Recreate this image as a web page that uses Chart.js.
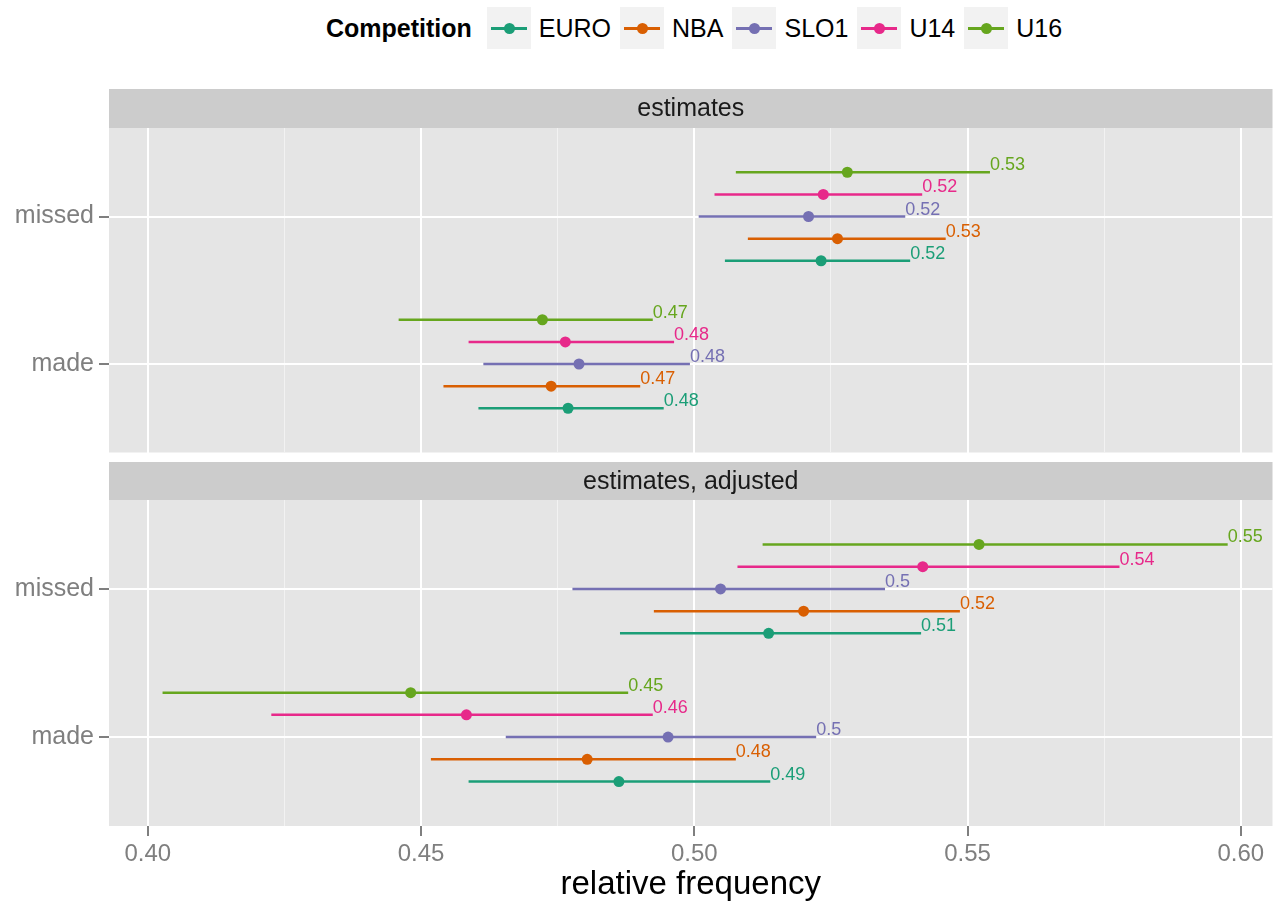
<!DOCTYPE html>
<html>
<head>
<meta charset="utf-8">
<script src="https://cdn.jsdelivr.net/npm/chart.js@4.4.1/dist/chart.umd.min.js"></script>
<style>
  body { margin: 0; background: #fff; font-family: "Liberation Sans", Arial, sans-serif; }
  #wrap { position: relative; width: 1278px; height: 907px; overflow: hidden; }
  #legend { position: absolute; top: 7px; left: 326px; height: 42px; display: flex; align-items: center; }
  #legend .title { font-weight: bold; font-size: 25px; margin-right: 15px; color: #000; }
  #legend .key { position: relative; width: 44px; height: 42px; background: #f2f2f2; margin-right: 8px; }
  #legend .key .ln { position: absolute; left: 4px; right: 4px; top: 20px; height: 3px; }
  #legend .key .pt { position: absolute; left: 17px; top: 16px; width: 11px; height: 11px; border-radius: 50%; }
  #legend .key .a { position: absolute; left: 19px; top: 19px; font-size: 9px; line-height: 9px; opacity: 0.5; }
  #legend .lab { font-size: 25px; margin-right: 9px; color: #000; }
  canvas { position: absolute; left: 0; }
  #topPanel { top: 89px; }
  #bottomPanel { top: 462px; }
</style>
</head>
<body>
<div id="wrap">
  <div id="legend"></div>
  <canvas id="topPanel" width="1278" height="369"></canvas>
  <canvas id="bottomPanel" width="1278" height="445"></canvas>
</div>
<script>
const competitions = ['EURO', 'NBA', 'SLO1', 'U14', 'U16'];
const colors = ['#1B9E77', '#D95F02', '#7570B3', '#E7298A', '#66A61E'];
const rows = ['missed', 'made'];
const xTickLabels = ['0.40', '0.45', '0.50', '0.55', '0.60'];
const xTickValues = [0.40, 0.45, 0.50, 0.55, 0.60];

// panel "estimates": order EURO, NBA, SLO1, U14, U16
const estMissedLo  = [0.5056, 0.5098, 0.5008, 0.5037, 0.5076];
const estMissedMid = [0.5232, 0.5262, 0.5209, 0.5236, 0.5280];
const estMissedHi  = [0.5395, 0.5460, 0.5386, 0.5417, 0.5541];
const estMadeLo    = [0.4605, 0.4541, 0.4614, 0.4587, 0.4459];
const estMadeMid   = [0.4769, 0.4738, 0.4789, 0.4764, 0.4722];
const estMadeHi    = [0.4944, 0.4901, 0.4992, 0.4963, 0.4924];

// panel "estimates, adjusted"
const adjMissedLo  = [0.4864, 0.4926, 0.4777, 0.5079, 0.5125];
const adjMissedMid = [0.5136, 0.5200, 0.5048, 0.5418, 0.5521];
const adjMissedHi  = [0.5415, 0.5486, 0.5349, 0.5778, 0.5976];
const adjMadeLo    = [0.4587, 0.4518, 0.4655, 0.4226, 0.4027];
const adjMadeMid   = [0.4862, 0.4804, 0.4952, 0.4583, 0.4481];
const adjMadeHi    = [0.5139, 0.5076, 0.5223, 0.4924, 0.4879];

// layout of the discrete y axis (dodged rows)
const rowPos = [2, 1];
const dodge = [-0.3, -0.15, 0, 0.15, 0.3];
const FONT = '"Liberation Sans", Arial, sans-serif';

function buildLegend() {
  const legend = document.getElementById('legend');
  legend.innerHTML = '<span class="title">Competition</span>';
  competitions.forEach((comp, i) => {
    const key = document.createElement('span');
    key.className = 'key';
    key.innerHTML = `<span class="ln" style="background:${colors[i]}"></span>` +
      `<span class="pt" style="background:${colors[i]}"></span>` +
      `<span class="a" style="color:${colors[i]}">a</span>`;
    const lab = document.createElement('span');
    lab.className = 'lab';
    lab.textContent = comp;
    legend.append(key, lab);
  });
}

const panelPlugin = {
  id: 'panel',
  beforeDraw(chart, args, opts) {
    const { ctx, chartArea: a } = chart;
    ctx.save();
    ctx.fillStyle = '#e5e5e5';
    ctx.fillRect(a.left, a.top, a.right - a.left, a.bottom - a.top);
    ctx.fillStyle = '#cccccc';
    ctx.fillRect(a.left, a.top - opts.stripHeight, a.right - a.left, opts.stripHeight);
    ctx.fillStyle = '#1a1a1a';
    ctx.font = '25px ' + FONT;
    ctx.textAlign = 'center';
    ctx.textBaseline = 'middle';
    ctx.fillText(opts.text, (a.left + a.right) / 2, a.top - opts.stripHeight / 2 + 1);
    ctx.restore();
  },
};

function makeLabelPlugin(mid, hi) {
  return {
    id: 'valueLabels',
    afterDatasetsDraw(chart) {
      const { ctx, scales } = chart;
      ctx.save();
      ctx.font = '18px ' + FONT;
      ctx.textAlign = 'left';
      ctx.textBaseline = 'alphabetic';
      competitions.forEach((comp, i) => {
        rows.forEach((row, r) => {
          const x = scales.x.getPixelForValue(hi[row][i]);
          const y = scales.y.getPixelForValue(rowPos[r] + dodge[i]);
          ctx.fillStyle = colors[i];
          ctx.fillText(String(Number(mid[row][i].toFixed(2))), x, y - 2);
        });
      });
      ctx.restore();
    },
  };
}

function makePanel(canvasId, stripText, stripHeight, lo, mid, hi, isBottom) {
  const datasets = [];
  competitions.forEach((comp, i) => {
    rows.forEach((row, r) => {
      const y = rowPos[r] + dodge[i];
      datasets.push({
        type: 'line',
        data: [{ x: lo[row][i], y }, { x: hi[row][i], y }],
        borderColor: colors[i],
        borderWidth: 2.5,
        borderCapStyle: 'butt',
        pointRadius: 0,
        order: 2,
      });
    });
  });
  competitions.forEach((comp, i) => {
    datasets.push({
      type: 'scatter',
      data: rows.map((row, r) => ({ x: mid[row][i], y: rowPos[r] + dodge[i] })),
      backgroundColor: colors[i],
      borderColor: colors[i],
      borderWidth: 0,
      pointRadius: 5.5,
      order: 1,
    });
  });

  const xTicks = [];
  xTickValues.forEach((v, k) => {
    xTicks.push(v);
    if (k < xTickValues.length - 1) xTicks.push((v + xTickValues[k + 1]) / 2);
  });

  return new Chart(document.getElementById(canvasId), {
    type: 'scatter',
    data: { datasets },
    plugins: [panelPlugin, makeLabelPlugin(mid, hi)],
    options: {
      responsive: false,
      animation: false,
      layout: { padding: { top: stripHeight, right: 1, left: 0, bottom: 0 } },
      plugins: {
        legend: { display: false },
        tooltip: { enabled: false },
        panel: { text: stripText, stripHeight },
      },
      scales: {
        x: {
          type: 'linear',
          min: 0.3929,
          max: 0.6058,
          afterBuildTicks: (axis) => { axis.ticks = xTicks.map((v) => ({ value: v })); },
          afterFit: (axis) => {
            axis.height = isBottom ? 81 : 0;
            axis.paddingLeft = 0;
            axis.paddingRight = 0;
          },
          border: { display: false },
          grid: {
            color: (c) => (c.index % 2 === 0 ? '#ffffff' : '#f2f2f2'),
            lineWidth: (c) => (c.index % 2 === 0 ? 2 : 1),
            drawTicks: isBottom,
            tickLength: 10,
            tickWidth: 2,
            tickColor: (c) => (c.index % 2 === 0 ? '#7f7f7f' : 'rgba(0,0,0,0)'),
          },
          ticks: {
            display: isBottom,
            autoSkip: false,
            maxRotation: 0,
            padding: 4,
            color: '#7f7f7f',
            font: { family: FONT, size: 24 },
            callback: (value, index) => (index % 2 === 0 ? xTickLabels[index / 2] : ''),
          },
          title: {
            display: isBottom,
            text: 'relative frequency',
            color: '#000000',
            font: { family: FONT, size: 33 },
            padding: { top: 0, bottom: 2 },
          },
        },
        y: {
          type: 'linear',
          min: 0.4,
          max: 2.6,
          afterBuildTicks: (axis) => { axis.ticks = [{ value: 1 }, { value: 2 }]; },
          afterFit: (axis) => {
            axis.width = 109;
            axis.paddingTop = 0;
            axis.paddingBottom = 0;
          },
          border: { display: false },
          grid: {
            color: '#ffffff',
            lineWidth: 2,
            tickLength: 10,
            tickWidth: 2,
            tickColor: '#7f7f7f',
          },
          ticks: {
            padding: 5,
            color: '#7f7f7f',
            font: { family: FONT, size: 25 },
            callback: (value) => rows[rowPos.indexOf(value)],
          },
        },
      },
    },
  });
}

buildLegend();
makePanel('topPanel', 'estimates', 39,
  { missed: estMissedLo, made: estMadeLo },
  { missed: estMissedMid, made: estMadeMid },
  { missed: estMissedHi, made: estMadeHi }, false);
makePanel('bottomPanel', 'estimates, adjusted', 38,
  { missed: adjMissedLo, made: adjMadeLo },
  { missed: adjMissedMid, made: adjMadeMid },
  { missed: adjMissedHi, made: adjMadeHi }, true);
</script>
</body>
</html>
